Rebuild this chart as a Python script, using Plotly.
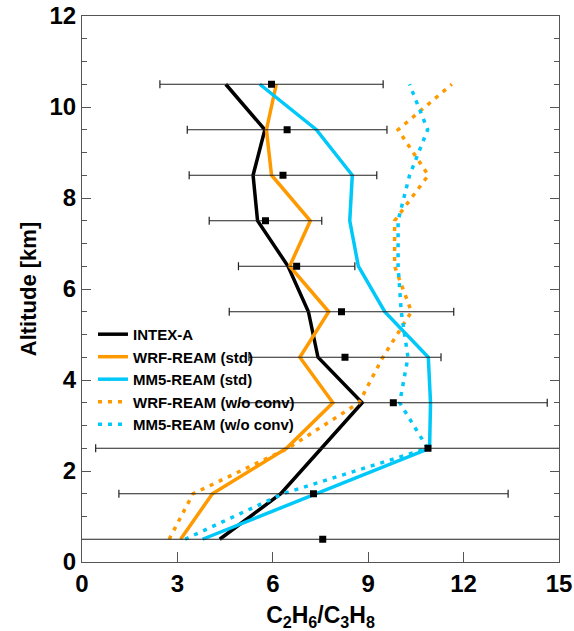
import plotly.graph_objects as go

altitude = [0.5, 1.5, 2.5, 3.5, 4.5, 5.5, 6.5, 7.5, 8.5, 9.5, 10.5]

intex_a = [4.33, 6.25, 7.53, 8.81, 7.42, 7.12, 6.48, 5.52, 5.38, 5.75, 4.52]
wrf_std = [3.10, 4.10, 6.43, 7.89, 6.85, 7.76, 6.53, 7.18, 5.96, 5.80, 6.11]
mm5_std = [3.79, 7.37, 10.93, 10.96, 10.89, 9.52, 8.69, 8.42, 8.50, 7.37, 5.59]
wrf_noconv = [2.74, 3.49, 6.48, 8.71, 9.46, 10.36, 9.83, 9.83, 10.89, 9.94, 11.63]
mm5_noconv = [3.24, 6.32, 10.87, 9.99, 10.25, 10.04, 9.94, 9.94, 10.30, 10.87, 10.30]

obs_mean = [7.57, 7.28, 10.88, 9.79, 8.27, 8.16, 6.75, 5.77, 6.32, 6.45, 5.96]
obs_err = [8.0, 6.12, 10.45, 4.84, 3.02, 3.53, 1.83, 1.77, 2.95, 3.14, 3.51]

FONT = "Liberation Sans"
ORANGE = "#FF9900"
CYAN = "#00C8F8"

fig = go.Figure()

series = [
    ("INTEX-A", intex_a, "black", "solid"),
    ("WRF-REAM (std)", wrf_std, ORANGE, "solid"),
    ("MM5-REAM (std)", mm5_std, CYAN, "solid"),
    ("WRF-REAM (w/o conv)", wrf_noconv, ORANGE, "4px,6px"),
    ("MM5-REAM (w/o conv)", mm5_noconv, CYAN, "4px,6px"),
]
for name, vals, color, dash in series:
    fig.add_trace(go.Scatter(
        x=vals, y=altitude, mode="lines", name=name,
        line=dict(color=color, width=3.5, dash=dash),
    ))

fig.add_trace(go.Scatter(
    x=obs_mean, y=altitude, mode="markers", showlegend=False,
    marker=dict(symbol="square", size=7, color="black"),
    error_x=dict(type="data", array=obs_err, color="#222222", thickness=1.2, width=4),
))

fig.update_layout(
    width=574, height=631,
    margin=dict(l=82, r=15, t=16, b=69),
    paper_bgcolor="white", plot_bgcolor="white",
    font=dict(family=FONT, color="black"),
    legend=dict(
        x=0.023, y=0.447, xanchor="left", yanchor="top",
        bgcolor="rgba(0,0,0,0)",
        font=dict(family=FONT, size=15, weight="bold", color="black"),
        tracegroupgap=0,
    ),
)

fig.update_xaxes(
    range=[0, 15], tick0=0, dtick=3, automargin=False,
    ticks="inside", ticklen=10, tickcolor="#555555",
    showline=True, linecolor="#555555", linewidth=1, mirror=True,
    showgrid=False, zeroline=False,
    tickfont=dict(family=FONT, size=24, weight="bold"),
    title=dict(text="C<sub>2</sub>H<sub>6</sub>/C<sub>3</sub>H<sub>8</sub>",
               font=dict(family=FONT, size=23, weight="bold"), standoff=22),
)
fig.update_yaxes(
    range=[0, 12], tick0=0, dtick=2, automargin=False,
    ticks="inside", ticklen=9, tickcolor="#555555",
    minor=dict(dtick=0.5, ticks="inside", ticklen=5, tickcolor="#555555"),
    showline=True, linecolor="#555555", linewidth=1, mirror="ticks",
    showgrid=False, zeroline=False,
    tickfont=dict(family=FONT, size=24, weight="bold"),
    title=dict(text="Altitude [km]",
               font=dict(family=FONT, size=22, weight="bold"), standoff=6),
)

fig.write_html("out.html")
